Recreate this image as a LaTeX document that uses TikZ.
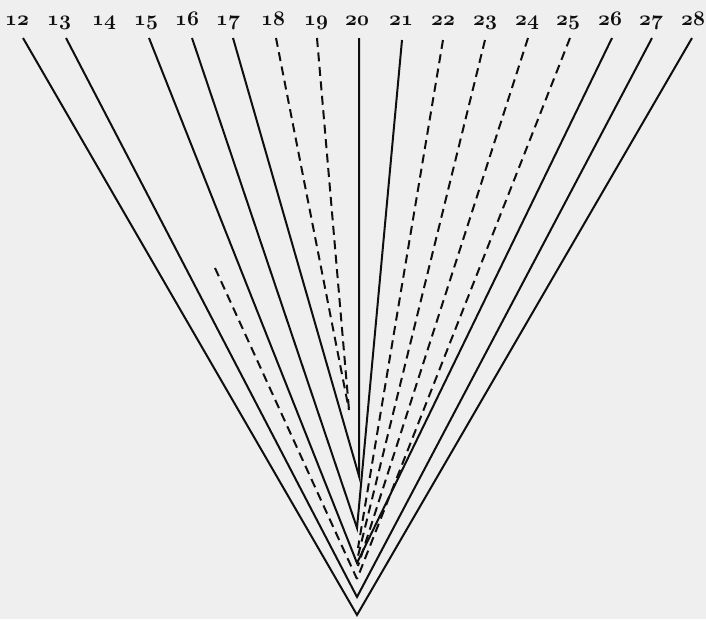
\documentclass[tikz,border=0pt]{standalone}
\usepackage{tikz}
\definecolor{bgc}{RGB}{239,239,239}
\definecolor{ink}{RGB}{15,15,15}
\newcommand{\numlab}[1]{{\usefont{OML}{cmm}{b}{it}#1}}
\begin{document}
\begin{tikzpicture}[x=1pt,y=-1pt,
  solidline/.style={draw=ink,line width=2pt},
  dashline/.style={draw=ink,line width=2pt,dash pattern=on 9pt off 5.5pt},
  lab/.style={anchor=base,inner sep=0pt,font=\fontsize{20}{24}\selectfont,text=ink}]
\fill[bgc] (0,0) rectangle (706,619);
\useasboundingbox (0,0) rectangle (706,619);
% labels
\foreach \n/\x in {12/17,13/59,14/104,15/146,16/187,17/228,18/273,19/316,20/357,21/401,22/443,23/485,24/527,25/568,26/610,27/651,28/693}{
  \node[lab] (l\n) at (\x,25) {\numlab{\n}};
}
% top ends
\coordinate (t12) at (23,38);
\coordinate (t13) at (66,38);
\coordinate (t14) at (215,268);
\coordinate (t15) at (149,38);
\coordinate (t16) at (192,38);
\coordinate (t17) at (233,38);
\coordinate (t18) at (276,38);
\coordinate (t19) at (317,38);
\coordinate (t20) at (359,38);
\coordinate (t21) at (402,40);
\coordinate (t22) at (443,40);
\coordinate (t23) at (485,40);
\coordinate (t24) at (528,38);
\coordinate (t25) at (570,38);
\coordinate (t26) at (612,38);
\coordinate (t27) at (652,38);
\coordinate (t28) at (692,38);
% meeting points
\coordinate (a1) at (357,615);
\coordinate (a2) at (357,597);
\coordinate (a3) at (357,579);
\coordinate (a4) at (357,563);
\coordinate (a5) at (357,528);
\coordinate (a6) at (359,476);
\coordinate (a7) at (349,410);
\coordinate (e22) at (358,548);
\coordinate (e23) at (358,556);
\coordinate (e24) at (358,566);
% solid lines
\draw[solidline] (t12) -- (a1) -- (t28);
\draw[solidline] (t13) -- (a2) -- (t27);
\draw[solidline] (t15) -- (a4) -- (t26);
\draw[solidline] (t16) -- (a5) -- (t21);
\draw[solidline] (t17) -- (a6) -- (t20);
% dashed lines
\draw[dashline] (t14) -- (a3);
\draw[dashline] (t25) -- (a3);
\draw[dashline] (t18) -- (a7);
\draw[dashline] (t19) -- (a7);
\draw[dashline] (t22) -- (e22);
\draw[dashline] (t23) -- (e23);
\draw[dashline] (t24) -- (e24);
\end{tikzpicture}
\end{document}
